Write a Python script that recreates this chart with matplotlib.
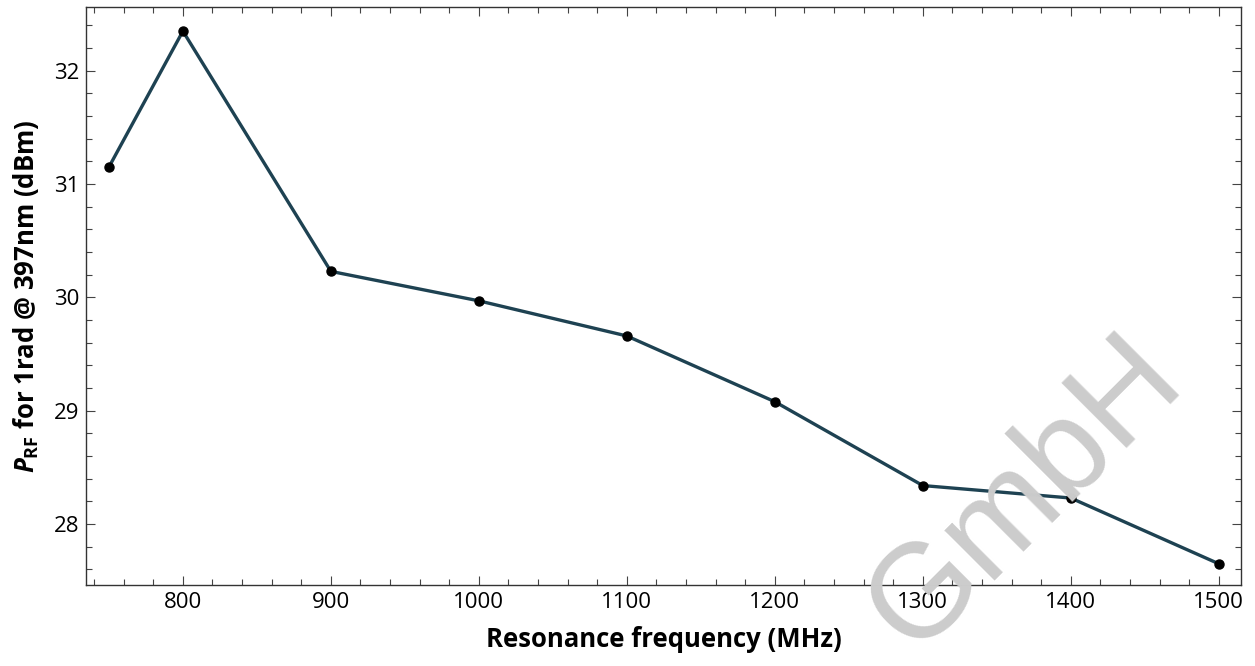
import numpy as np
import matplotlib
matplotlib.use("Agg")
import matplotlib.pyplot as plt
from matplotlib.ticker import MultipleLocator

# data
freq_mhz = [750, 800, 900, 1000, 1100, 1200, 1300, 1400, 1500]
p_rf_dbm = [31.15, 32.35, 30.23, 29.97, 29.66, 29.08, 28.34, 28.23, 27.65]
x_ticks = [800, 900, 1000, 1100, 1200, 1300, 1400, 1500]
y_ticks = [28, 29, 30, 31, 32]

plt.rcParams['font.family'] = ['Open Sans', 'DejaVu Sans']
plt.rcParams['mathtext.fontset'] = 'custom'
plt.rcParams['mathtext.rm'] = 'Open Sans:bold'
plt.rcParams['mathtext.it'] = 'Open Sans:italic:bold'
plt.rcParams['mathtext.bf'] = 'Open Sans:bold'

fig = plt.figure(figsize=(12.55, 6.66), dpi=100)
ax = fig.add_axes([0.0685, 0.1212, 0.9203, 0.8678])

# watermark behind the plot
fig.text(0.817, 0.258, "GmbH", fontsize=96, family='Liberation Sans',
         color='#cccccc', rotation=45, ha='center', va='center', zorder=0)

ax.plot(freq_mhz, p_rf_dbm, color='#1e4252', linewidth=2.4, zorder=3)
ax.plot(freq_mhz, p_rf_dbm, 'o', color='black', markersize=6.5, zorder=4)
ax.patch.set_alpha(0)

ax.set_xlim(734.5, 1515)
ax.set_ylim(27.46, 32.56)
ax.set_xticks(x_ticks)
ax.set_yticks(y_ticks)
ax.xaxis.set_minor_locator(MultipleLocator(20))
ax.yaxis.set_minor_locator(MultipleLocator(0.2))
ax.tick_params(which='both', direction='in', top=True, right=True,
               labelsize=16, width=0.8, color='#444444')
ax.tick_params(which='major', length=6.5, pad=5)
ax.tick_params(which='minor', length=4.3)
for s in ax.spines.values():
    s.set_linewidth(1.0)
    s.set_color('#333333')

ax.set_xlabel("Resonance frequency (MHz)", fontsize=18.5, fontweight='bold', labelpad=9)
ax.set_ylabel(r"$P_{\mathrm{RF}}$ for 1rad @ 397nm (dBm)", fontsize=18.5,
              fontweight='bold', labelpad=9)

fig.savefig("out.png", dpi=100)
